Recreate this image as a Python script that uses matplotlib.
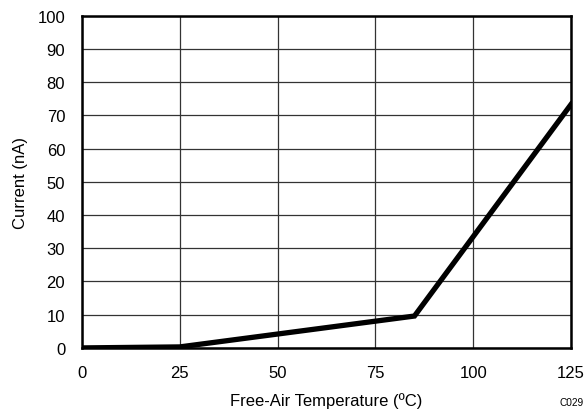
import matplotlib
matplotlib.use("Agg")
import matplotlib.pyplot as plt
from matplotlib.lines import Line2D

temps = [0, 25, 85, 125]
current = [0.0, 0.3, 9.6, 73.3]
xticks = [0, 25, 50, 75, 100, 125]
yticks = list(range(0, 101, 10))

plt.rcParams['font.family'] = ['Liberation Sans', 'DejaVu Sans']

fig = plt.figure(figsize=(5.85, 4.1), dpi=100)
ax = fig.add_axes([0.140, 0.149, 0.836, 0.810])
ax.plot(temps, current, color='black', lw=3.8, solid_joinstyle='miter', clip_on=True)
ax.set_xlim(0, 125)
ax.set_ylim(0, 100)
ax.set_xticks(xticks)
ax.set_yticks(yticks)
ax.grid(True, color='#333333', lw=0.9)
ax.set_axisbelow(True)
for s in ax.spines.values():
    s.set_linewidth(1.8)
ax.tick_params(axis='x', length=0, labelsize=12, pad=12)
ax.tick_params(axis='y', length=0, labelsize=12, pad=12)
ax.set_xlabel('Free-Air Temperature (ºC)', fontsize=12, labelpad=9)
ax.set_ylabel('Current (nA)', fontsize=12, labelpad=7)
fig.text(0.997, 0.016, 'C029', fontsize=7.3, ha='right', va='center')
fig.add_artist(Line2D([0, 1], [0.999, 0.999], color='black', lw=1.2, transform=fig.transFigure))
fig.savefig('out.png', dpi=100)
